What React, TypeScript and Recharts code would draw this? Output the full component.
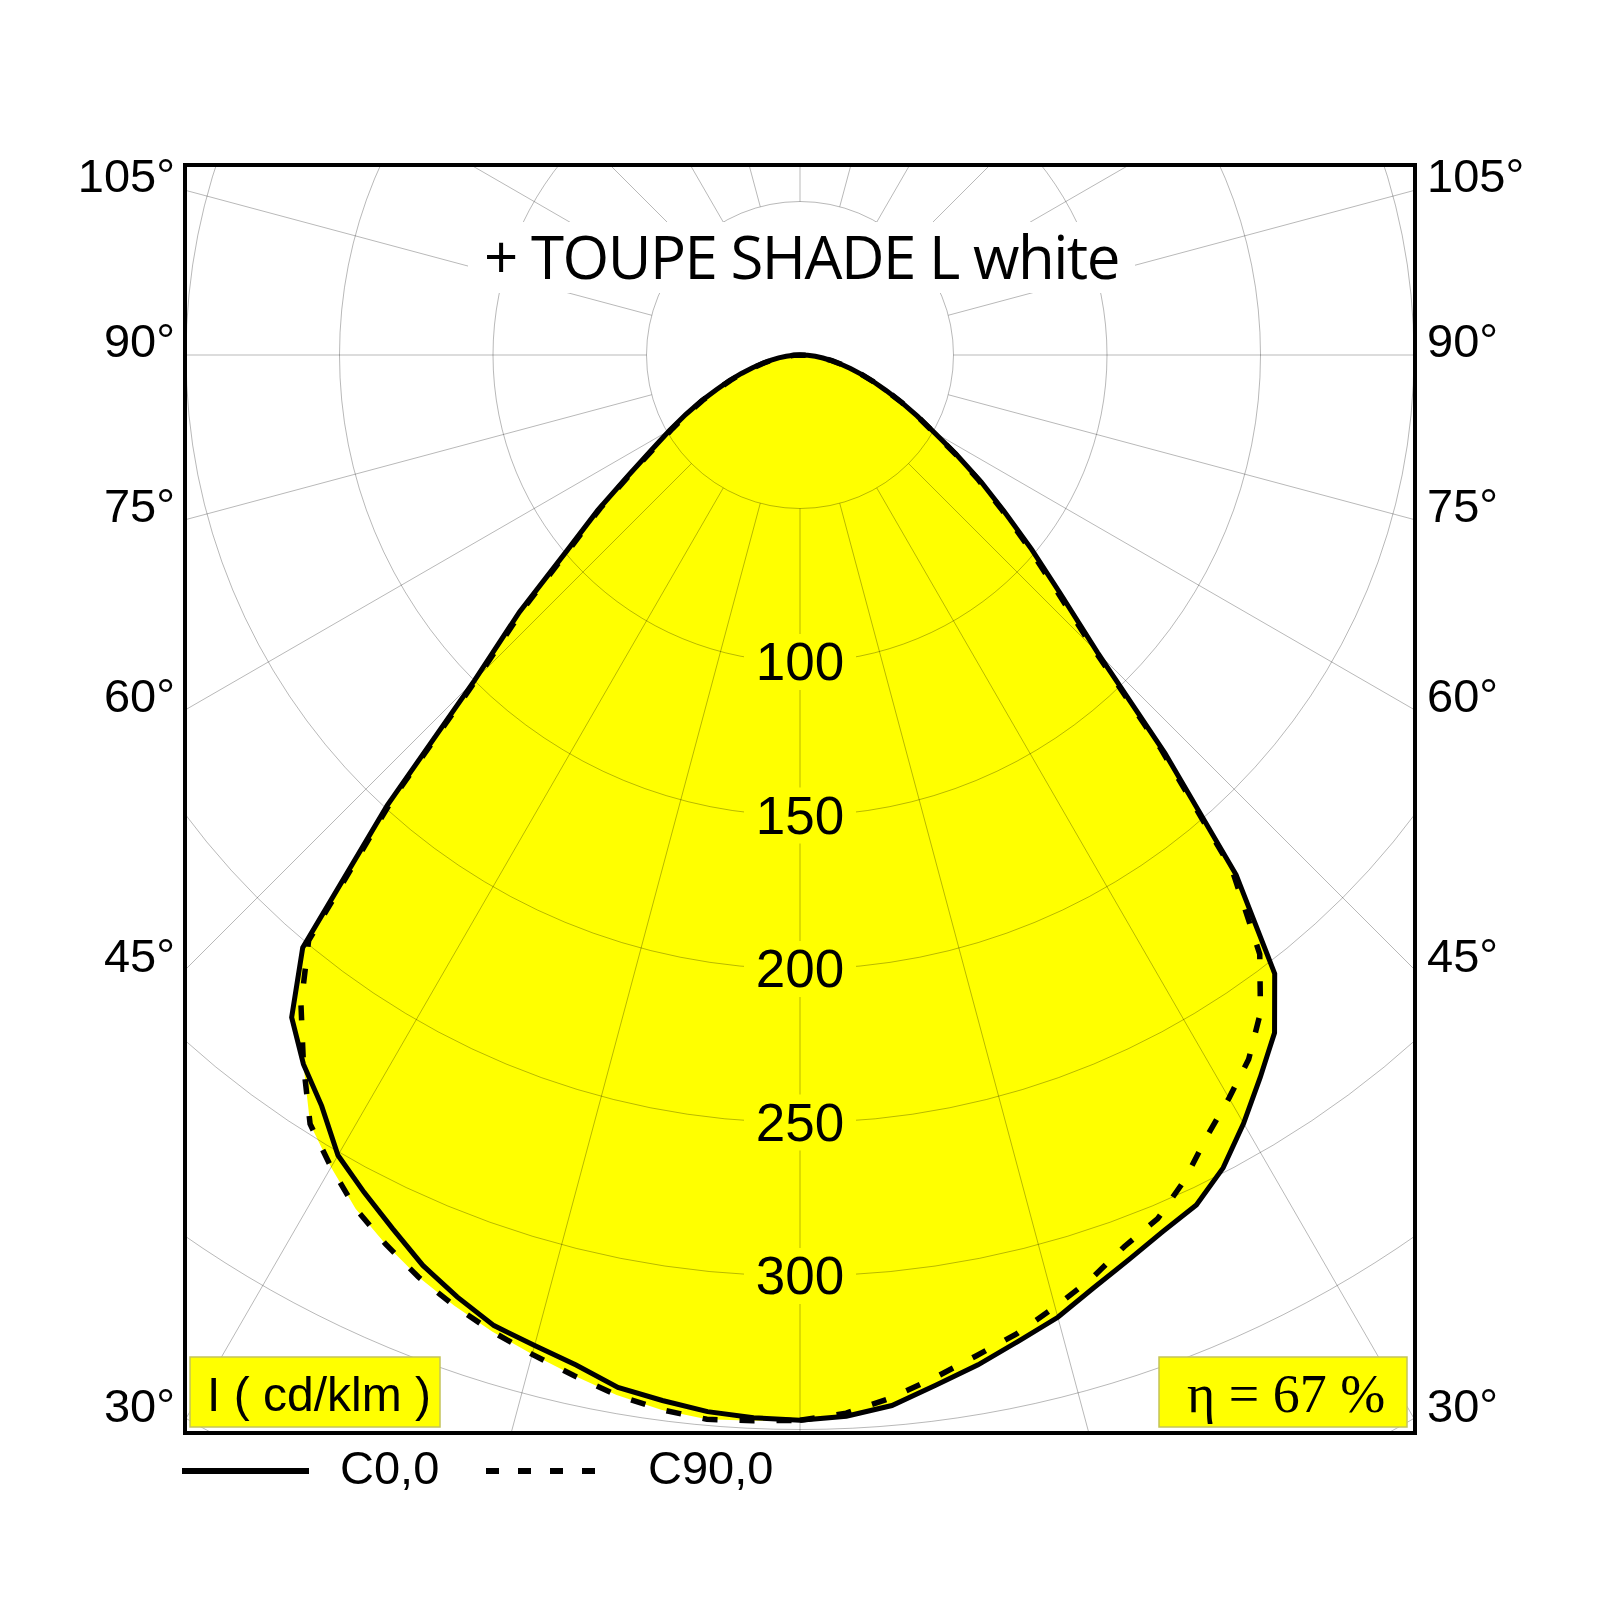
import React from "react";
import {
  PolarAngleAxis,
  PolarGrid,
  PolarRadiusAxis,
  Radar,
  RadarChart
} from "recharts";

// gamma (degrees from nadir) and luminous intensity in cd/klm
const GAMMA = [
  0, 2.5, 5, 7.5, 10, 12.5, 15, 17.5, 20, 22.5, 25, 27.5, 30, 32.5, 35, 37.5, 40, 42.5, 45,
  47.5, 50, 52.5, 55, 57.5, 60, 62.5, 65, 67.5, 70, 72.5, 75, 77.5, 80, 82.5, 85, 87.5, 90
];

// C0 plane (solid), right half and left half
const C0_RIGHT = [
  347, 346, 343.5, 338.5, 334, 329, 324.5, 318.5, 313.5, 309, 305.5, 298.5, 289, 279, 269.5, 254, 221, 176, 137,
  115, 98.5, 84, 72, 60.5, 50.5, 43, 36.5, 30.5, 25.5, 21, 17, 13.5, 10.5, 7.5, 5, 2.5, 0
];
const C0_LEFT = [
  347, 346.5, 345.5, 343.5, 341.5, 337, 334, 331.5, 326.5, 321, 314, 307.5, 301, 290, 282, 272, 252, 199, 150,
  124, 99, 83, 68, 57, 49, 42, 35.5, 29.5, 24.5, 20, 16, 12.5, 9.5, 7, 4.5, 2, 0
];

// C90 plane (dashed), right half and left half
const C90_RIGHT = [
  347, 345, 341, 336, 331, 326.5, 321, 315.5, 309, 304.5, 296.5, 287, 279.5, 272, 261.5, 246, 219, 174, 135,
  113, 97, 83, 71, 60, 50, 43, 36.5, 30.5, 25.5, 21, 17, 13.5, 10.5, 7.5, 5, 2.5, 0
];
const C90_LEFT = [
  347, 347.5, 348, 346.5, 344, 340.5, 337, 333.5, 329.5, 325, 319.5, 313.5, 305.5, 297, 282, 267, 249, 197, 148,
  122, 97.5, 82, 67, 56, 48, 41, 35, 29, 24, 19.5, 15.5, 12, 9, 6.5, 4.5, 2, 0
];

const RADIUS_LABELS = [100, 150, 200, 250, 300];
const GRID_ANGLES = [0, 15, 30, 45, 60, 75, 90, 105, 120, 135, 150, 165, 180, 195, 210, 225, 240, 255, 270, 285, 300, 315, 330, 345];
const SIDE_ANGLES = [105, 90, 75, 60, 45, 30];
const LEGEND = ["C0,0", "C90,0"];

const TITLE = "+ TOUPE SHADE L white";
const UNIT_LABEL = "I ( cd/klm )";
const EFFICIENCY_LABEL = "η = 67 %";

// angle axis runs 0..360 counter-clockwise from nadir: right half first, left half mirrored
const rows = [
  ...GAMMA.map((g, i) => ({ angle: g, c0: C0_RIGHT[i], c90: C90_RIGHT[i] })),
  { angle: 180, c0: 0, c90: 0 },
  ...GAMMA.map((g, i) => ({ angle: 360 - g, c0: C0_LEFT[i], c90: C90_LEFT[i] }))
    .filter((r) => r.angle < 360)
    .sort((a, b) => a.angle - b.angle)
];

const PX_PER_UNIT = 3.07;
const CX = 800;
const CY = 355;
const FRAME = { left: 183, top: 163, width: 1234, height: 1272, border: 4 };
const INNER_LEFT = FRAME.left + FRAME.border;
const INNER_TOP = FRAME.top + FRAME.border;
const EDGE_LEFT = FRAME.left + FRAME.border / 2;

const SANS = "'Liberation Sans', Arial, sans-serif";

const RadiusTick = (props: any) => {
  const { x, y, payload } = props;
  if (!RADIUS_LABELS.includes(payload.value)) return <g />;
  return (
    <g>
      <rect x={x - 56} y={y - 28} width={112} height={56} fill="#ffff00" />
      <text x={x} y={y + 18} textAnchor="middle" fontSize={53} fontFamily={SANS} fill="#000">
        {payload.value}
      </text>
    </g>
  );
};

export default function App() {
  const innerW = FRAME.width - 2 * FRAME.border;
  const innerH = FRAME.height - 2 * FRAME.border;

  return (
    <div style={{ position: "absolute", left: 0, top: 0, width: 1600, height: 1600, background: "#fff" }}>
      {/* yellow fill is multiplied so the grid underneath still shows through, as in the original */}
      <style>{`.yellow-fill { mix-blend-mode: multiply; }`}</style>
      <div
        style={{
          position: "absolute",
          left: FRAME.left,
          top: FRAME.top,
          width: FRAME.width,
          height: FRAME.height,
          boxSizing: "border-box",
          border: `${FRAME.border}px solid #000`,
          overflow: "hidden"
        }}
      >
        <RadarChart
          width={innerW}
          height={innerH}
          data={rows}
          cx={CX - INNER_LEFT}
          cy={CY - INNER_TOP}
          innerRadius={50 * PX_PER_UNIT}
          outerRadius={400 * PX_PER_UNIT}
          startAngle={-90}
          endAngle={270}
          margin={{ top: 0, right: 0, bottom: 0, left: 0 }}
        >
          <PolarAngleAxis type="number" dataKey="angle" domain={[0, 360]} tick={false} axisLine={false} tickLine={false} />
          <PolarGrid gridType="circle" polarAngles={GRID_ANGLES} stroke="#000" strokeOpacity={0.28} strokeWidth={1} />
          <Radar className="yellow-fill" dataKey="c0" stroke="none" fill="#ffff00" fillOpacity={1} dot={false} isAnimationActive={false} />
          <Radar className="yellow-fill" dataKey="c90" stroke="none" fill="#ffff00" fillOpacity={1} dot={false} isAnimationActive={false} />
          <Radar dataKey="c0" stroke="#000" strokeWidth={5} fill="none" fillOpacity={0} dot={false} isAnimationActive={false} />
          <Radar
            dataKey="c90"
            stroke="#000"
            strokeWidth={5.5}
            strokeDasharray="15 22"
            fill="none"
            fillOpacity={0}
            dot={false}
            isAnimationActive={false}
          />
          <PolarRadiusAxis
            angle={-90}
            domain={[50, 400]}
            allowDataOverflow
            tickCount={8}
            axisLine={false}
            tick={RadiusTick}
          />
        </RadarChart>
      </div>

      <svg width={1600} height={1600} style={{ position: "absolute", left: 0, top: 0, pointerEvents: "none" }}>
        <rect x={468} y={222} width={667} height={71} fill="#fff" />
        <text x={801.5} y={279} textAnchor="middle" fontFamily="'Open Sans', sans-serif" fontSize={60} letterSpacing={-1.5}>
          {TITLE}
        </text>

        {SIDE_ANGLES.map((g) => {
          const rad = (g * Math.PI) / 180;
          const y = CY + ((CX - EDGE_LEFT) * Math.cos(rad)) / Math.sin(rad) + 2;
          return (
            <g key={g} fontFamily={SANS} fontSize={47}>
              <text x={175} y={y} textAnchor="end">{`${g}°`}</text>
              <text x={1427} y={y} textAnchor="start">{`${g}°`}</text>
            </g>
          );
        })}

        <rect x={190} y={1357} width={250} height={70} fill="#ffff00" stroke="#c4c45a" strokeWidth={1.5} />
        <text x={207} y={1411} fontFamily={SANS} fontSize={48}>{UNIT_LABEL}</text>

        <rect x={1159} y={1357} width={248} height={70} fill="#ffff00" stroke="#c4c45a" strokeWidth={1.5} />
        <text x={1187} y={1411.5} fontFamily="'Liberation Serif', 'Times New Roman', serif" fontSize={54}>
          {EFFICIENCY_LABEL}
        </text>

        <line x1={182} x2={309} y1={1471} y2={1471} stroke="#000" strokeWidth={6} />
        <text x={340} y={1484} fontFamily={SANS} fontSize={47}>{LEGEND[0]}</text>
        <line x1={486} x2={597} y1={1471} y2={1471} stroke="#000" strokeWidth={6} strokeDasharray="13 19" />
        <text x={648} y={1484} fontFamily={SANS} fontSize={47}>{LEGEND[1]}</text>
      </svg>
    </div>
  );
}
